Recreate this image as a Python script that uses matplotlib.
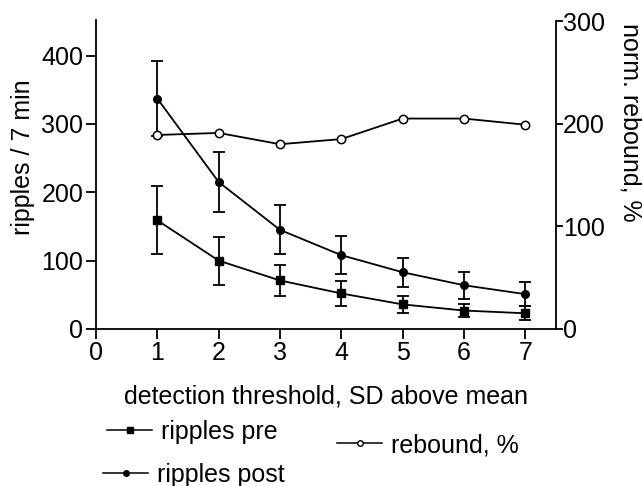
import numpy as np
import matplotlib
matplotlib.use('Agg')
from matplotlib import pyplot as plt
from matplotlib.lines import Line2D

plt.rcParams['font.family'] = ['Liberation Sans', 'DejaVu Sans']

thresh = [1, 2, 3, 4, 5, 6, 7]
pre = [159, 100, 71, 52, 36, 27, 23]
pre_err = [50, 35, 23, 18, 12, 10, 10]
post = [337, 215, 145, 108, 83, 64, 51]
post_err = [55, 44, 36, 28, 21, 20, 18]
rebound = [189, 191, 180, 185, 205, 205, 199]

FS = 18
W, H = 642, 486

fig = plt.figure(figsize=(W/100, H/100), dpi=100)
ax = fig.add_axes([96/W, 1-329/H, (556-96)/W, 309/H])
ax2 = ax.twinx()

ek = dict(color='black', lw=1.3, capsize=4, elinewidth=1.3, capthick=1.3)
ax.errorbar(thresh, pre, yerr=pre_err, marker='s', ms=6, **ek)
ax.errorbar(thresh, post, yerr=post_err, marker='o', ms=5.5, **ek)
ax2.plot(thresh, rebound, color='black', lw=1.3, marker='o', ms=6,
         mfc='white', mec='black', mew=1.1)

ax.set_xlim(0, 7.5)
ax.set_ylim(0, 452)
ax2.set_ylim(0, 301)
ax.set_xticks(range(8))
ax.set_yticks([0, 100, 200, 300, 400])
ax2.set_yticks([0, 100, 200, 300])

for a in (ax, ax2):
    a.spines['top'].set_visible(False)
    for s in a.spines.values():
        s.set_linewidth(1.3)
ax.tick_params(direction='out', length=7, width=1.3, labelsize=FS, pad=2)
ax2.tick_params(direction='out', length=5, width=1.3, labelsize=FS, pad=0)
ax.spines['right'].set_visible(False)
ax2.spines['left'].set_visible(False)
ax2.spines['bottom'].set_visible(False)
ax2.spines['right'].set_bounds(0, 300)

# axis titles sit off-centre in the original, so place them directly
fig.text(23/W, 1-157/H, 'ripples / 7 min', fontsize=FS, rotation=90,
         ha='center', va='center')
fig.text(630/W, 1-122/H, 'norm. rebound, %', fontsize=FS, rotation=-90,
         ha='center', va='center')
ax.set_xlabel('detection threshold, SD above mean', fontsize=FS, labelpad=14)

# legend entries placed one by one (handle left edge, centre y in pixels)
entries = [
    (Line2D([], [], color='black', lw=1.1, marker='s', ms=4), 'ripples pre', 107, 432),
    (Line2D([], [], color='black', lw=1.1, marker='o', ms=4), 'ripples post', 103, 475),
    (Line2D([], [], color='black', lw=1.1, marker='o', ms=4, mfc='white'), 'rebound, %', 337, 445),
]
for h, lab, px, py in entries:
    fig.legend([h], [lab], loc='center left', bbox_to_anchor=(px/W, 1-py/H),
               frameon=False, fontsize=FS, handlelength=1.8,
               handletextpad=0.35, borderaxespad=0, borderpad=0)

fig.savefig('out.png', dpi=100)
